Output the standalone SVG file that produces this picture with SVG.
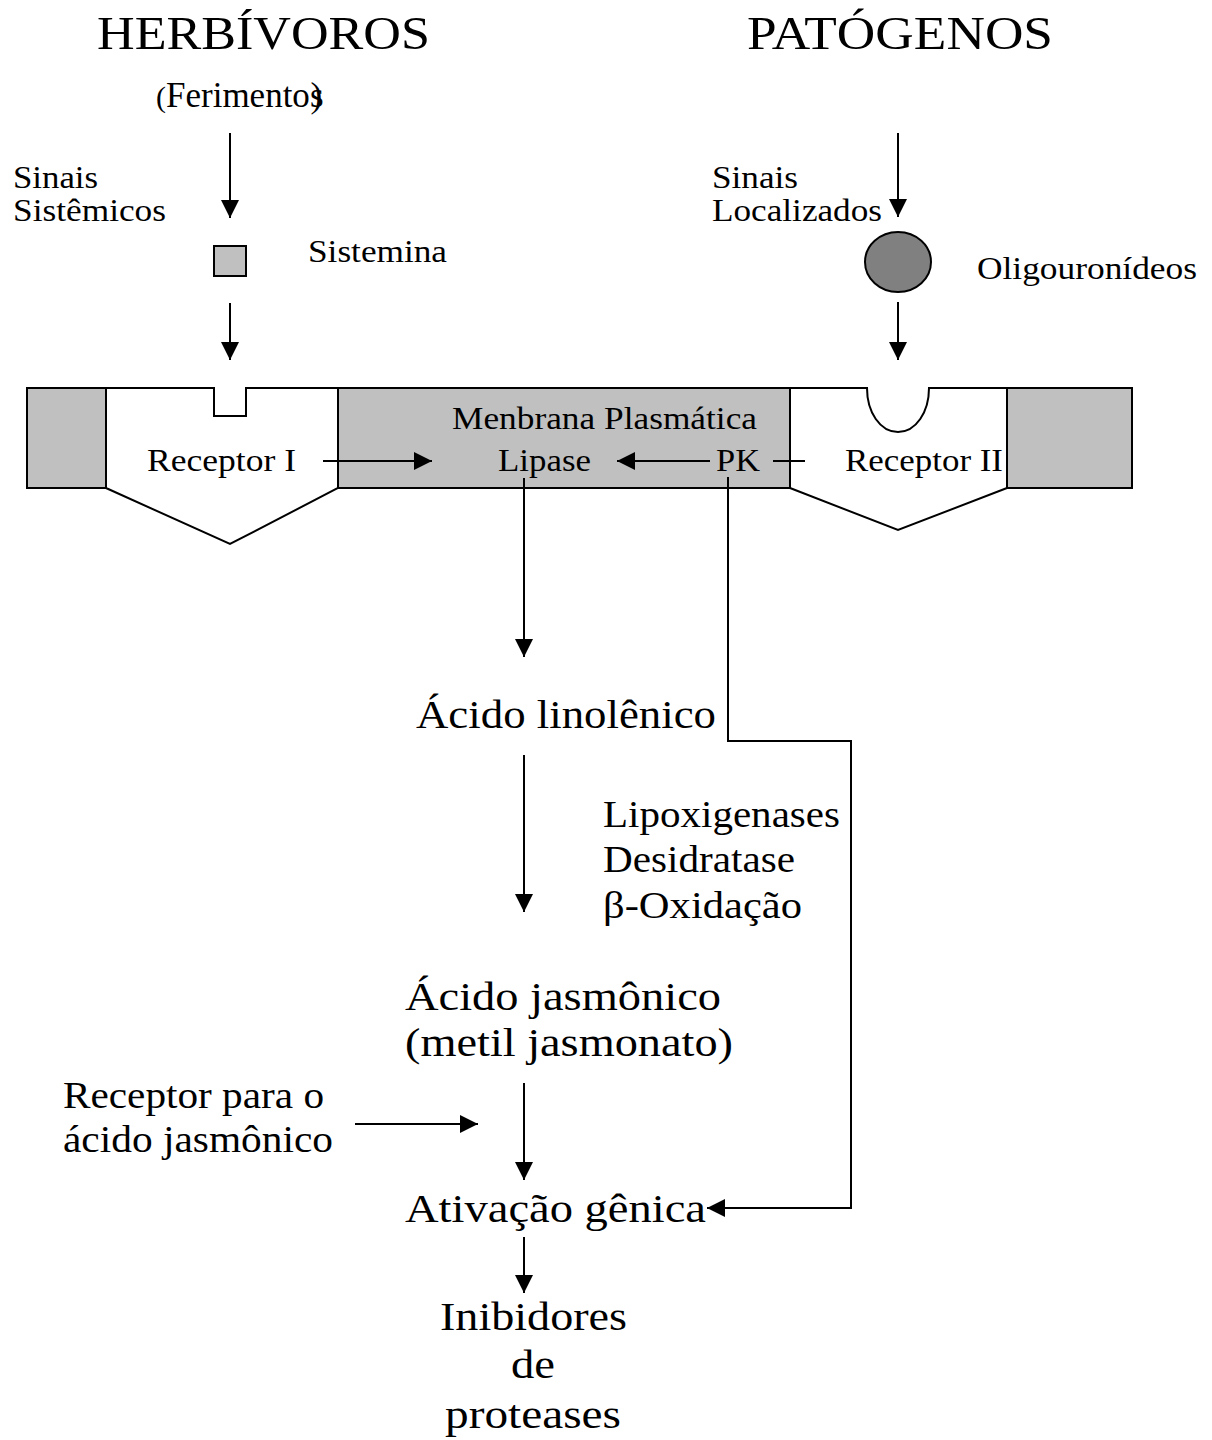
<svg xmlns="http://www.w3.org/2000/svg" width="1212" height="1440" viewBox="0 0 1212 1440">
<style>
text{font-family:"Liberation Serif","Times New Roman",serif;fill:#000}
.h{font-size:46px}
.s{font-size:32px}
.b{font-size:41px}
.m{font-size:37px}
.ln{stroke:#000;stroke-width:2;fill:none}
.gray{fill:#c0c0c0;stroke:#000;stroke-width:2}
</style>
<defs>
<marker id="ah" markerUnits="userSpaceOnUse" markerWidth="20" markerHeight="18" refX="18" refY="9" orient="auto">
<path d="M0,0 L18,9 L0,18 Z" fill="#000"/>
</marker>
</defs>
<rect width="1212" height="1440" fill="#fff"/>
<g id="titles">
<text class="h" x="97" y="49" textLength="333" lengthAdjust="spacingAndGlyphs">HERBÍVOROS</text>
<text class="h" x="747" y="49" textLength="306" lengthAdjust="spacingAndGlyphs">PATÓGENOS</text>
<text x="156" y="107" font-size="35"><tspan font-size="30">(</tspan>Ferimento<tspan>s</tspan><tspan dx="-13">)</tspan></text>
</g>
<g id="sinais-sistemicos">
<text class="s" x="13" y="188" textLength="85" lengthAdjust="spacingAndGlyphs">Sinais</text>
<text class="s" x="13" y="221" textLength="153" lengthAdjust="spacingAndGlyphs">Sistêmicos</text>
</g>
<g id="sistemina">
<rect x="214" y="246" width="32" height="30" fill="#c0c0c0" stroke="#000" stroke-width="2"/>
<text class="s" x="308" y="262" textLength="139" lengthAdjust="spacingAndGlyphs">Sistemina</text>
</g>
<g id="sinais-localizados">
<text class="s" x="712" y="188" textLength="86" lengthAdjust="spacingAndGlyphs">Sinais</text>
<text class="s" x="712" y="221" textLength="170" lengthAdjust="spacingAndGlyphs">Localizados</text>
</g>
<g id="oligouronideos">
<ellipse cx="898" cy="262" rx="33" ry="30" fill="#808080" stroke="#000" stroke-width="2"/>
<text class="s" x="977" y="279" textLength="220" lengthAdjust="spacingAndGlyphs">Oligouronídeos</text>
</g>
<g id="membrana">
<rect class="gray" x="27" y="388" width="79" height="100"/>
<rect class="gray" x="338" y="388" width="452" height="100"/>
<rect class="gray" x="1007" y="388" width="125" height="100"/>
<text class="s" x="452" y="429" textLength="305" lengthAdjust="spacingAndGlyphs">Menbrana Plasmática</text>
</g>
<g id="receptor1">
<path d="M106,388 L338,388 L338,488 L230,544 L106,488 Z" fill="#fff"/>
<path d="M106,388 L214,388 L214,416 L246,416 L246,388 L338,388 L338,488 L230,544 L106,488 Z" fill="none" stroke="#000" stroke-width="2"/>
<text class="s" x="147" y="471" textLength="149" lengthAdjust="spacingAndGlyphs">Receptor I</text>
</g>
<g id="receptor2">
<path d="M790,388 L1007,388 L1007,488 L898,530 L790,488 Z" fill="#fff"/>
<path d="M790,388 L867,388 C867,412 880,432 898,432 C916,432 929,412 929,388 L1007,388 L1007,488 L898,530 L790,488 Z" fill="none" stroke="#000" stroke-width="2"/>
<text class="s" x="845" y="471" textLength="158" lengthAdjust="spacingAndGlyphs">Receptor II</text>
</g>
<g id="lipase">
<text class="s" x="498" y="471" textLength="93" lengthAdjust="spacingAndGlyphs">Lipase</text>
</g>
<g id="pk">
<text class="s" x="716" y="471" textLength="44" lengthAdjust="spacingAndGlyphs">PK</text>
</g>
<g id="acido-linolenico">
<text class="b" x="416" y="728" textLength="300" lengthAdjust="spacingAndGlyphs">Ácido linolênico</text>
</g>
<g id="enzimas">
<text class="m" x="603" y="827" textLength="237" lengthAdjust="spacingAndGlyphs">Lipoxigenases</text>
<text class="m" x="603" y="872" textLength="192" lengthAdjust="spacingAndGlyphs">Desidratase</text>
<text class="m" x="603" y="918" textLength="199" lengthAdjust="spacingAndGlyphs">β-Oxidação</text>
</g>
<g id="acido-jasmonico">
<text class="b" x="405" y="1010" textLength="316" lengthAdjust="spacingAndGlyphs">Ácido jasmônico</text>
<text class="b" x="405" y="1056" textLength="328" lengthAdjust="spacingAndGlyphs">(metil jasmonato)</text>
</g>
<g id="receptor-ja">
<text class="m" x="63" y="1108" textLength="261" lengthAdjust="spacingAndGlyphs">Receptor para o</text>
<text class="m" x="63" y="1152" textLength="270" lengthAdjust="spacingAndGlyphs">ácido jasmônico</text>
</g>
<g id="ativacao">
<text class="b" x="405" y="1222" textLength="301" lengthAdjust="spacingAndGlyphs">Ativação gênica</text>
</g>
<g id="inibidores">
<text class="b" x="440" y="1330" textLength="187" lengthAdjust="spacingAndGlyphs">Inibidores</text>
<text class="b" x="511" y="1378" textLength="44" lengthAdjust="spacingAndGlyphs">de</text>
<text class="b" x="445" y="1428" textLength="176" lengthAdjust="spacingAndGlyphs">proteases</text>
</g>
<g id="connectors">
<line class="ln" x1="230" y1="133" x2="230" y2="218" marker-end="url(#ah)"/>
<line class="ln" x1="230" y1="303" x2="230" y2="360" marker-end="url(#ah)"/>
<line class="ln" x1="898" y1="133" x2="898" y2="217" marker-end="url(#ah)"/>
<line class="ln" x1="898" y1="302" x2="898" y2="360" marker-end="url(#ah)"/>
<line class="ln" x1="323" y1="461" x2="432" y2="461" marker-end="url(#ah)"/>
<line class="ln" x1="710" y1="461" x2="617" y2="461" marker-end="url(#ah)"/>
<line class="ln" x1="773" y1="461" x2="805" y2="461"/>
<line class="ln" x1="524" y1="478" x2="524" y2="657" marker-end="url(#ah)"/>
<line class="ln" x1="524" y1="755" x2="524" y2="912" marker-end="url(#ah)"/>
<polyline class="ln" points="728,477 728,741 851,741 851,1208 707,1208" marker-end="url(#ah)"/>
<line class="ln" x1="524" y1="1083" x2="524" y2="1180" marker-end="url(#ah)"/>
<line class="ln" x1="355" y1="1124" x2="478" y2="1124" marker-end="url(#ah)"/>
<line class="ln" x1="524" y1="1237" x2="524" y2="1293" marker-end="url(#ah)"/>
</g>
</svg>
